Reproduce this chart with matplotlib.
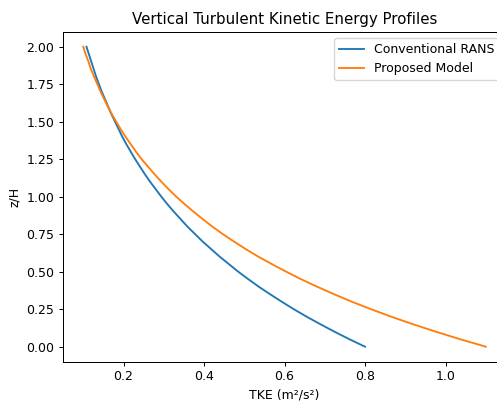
import matplotlib
matplotlib.use("Agg")
import matplotlib.pyplot as plt

# heights z/H
z = [0.00, 0.05, 0.10, 0.15, 0.20, 0.25, 0.30, 0.35, 0.40, 0.45, 0.50,
     0.55, 0.60, 0.65, 0.70, 0.75, 0.80, 0.85, 0.90, 0.95, 1.00,
     1.05, 1.10, 1.15, 1.20, 1.25, 1.30, 1.35, 1.40, 1.45, 1.50,
     1.55, 1.60, 1.65, 1.70, 1.75, 1.80, 1.85, 1.90, 1.95, 2.00]

# TKE values
tke_rans = [0.800, 0.761, 0.724, 0.689, 0.655, 0.623, 0.593, 0.564, 0.536, 0.510, 0.485,
            0.462, 0.439, 0.418, 0.397, 0.378, 0.359, 0.342, 0.325, 0.309, 0.294,
            0.280, 0.266, 0.253, 0.241, 0.229, 0.218, 0.207, 0.197, 0.188, 0.179,
            0.170, 0.162, 0.154, 0.146, 0.139, 0.132, 0.126, 0.120, 0.114, 0.108]
tke_proposed = [1.100, 1.036, 0.976, 0.919, 0.865, 0.815, 0.767, 0.723, 0.681, 0.641, 0.604,
                0.569, 0.535, 0.504, 0.475, 0.447, 0.421, 0.397, 0.374, 0.352, 0.331,
                0.312, 0.294, 0.277, 0.261, 0.245, 0.231, 0.218, 0.205, 0.193, 0.182,
                0.171, 0.161, 0.152, 0.143, 0.135, 0.127, 0.119, 0.113, 0.106, 0.100]

# the reference looks like a default figure rendered at ~90% scale
plt.rcParams["font.size"] = 9
plt.rcParams["lines.linewidth"] = 1.35
plt.rcParams["axes.linewidth"] = 0.72
plt.rcParams["axes.labelpad"] = 3.6
plt.rcParams["axes.titlepad"] = 5.4
plt.rcParams["xtick.major.size"] = 3.15
plt.rcParams["ytick.major.size"] = 3.15
plt.rcParams["xtick.major.width"] = 0.72
plt.rcParams["ytick.major.width"] = 0.72
plt.rcParams["xtick.major.pad"] = 3.15
plt.rcParams["ytick.major.pad"] = 3.15

fig = plt.figure(figsize=(4.97, 4.01), dpi=100)
ax = fig.add_axes([0.127, 0.098, 0.891, 0.823])

ax.plot(tke_rans, z, label="Conventional RANS")
ax.plot(tke_proposed, z, label="Proposed Model")

ax.set_xlabel("TKE (m²/s²)")
ax.set_ylabel("z/H")
ax.set_title("Vertical Turbulent Kinetic Energy Profiles")
ax.legend(loc="upper right")

fig.savefig("out.png", dpi=100)
